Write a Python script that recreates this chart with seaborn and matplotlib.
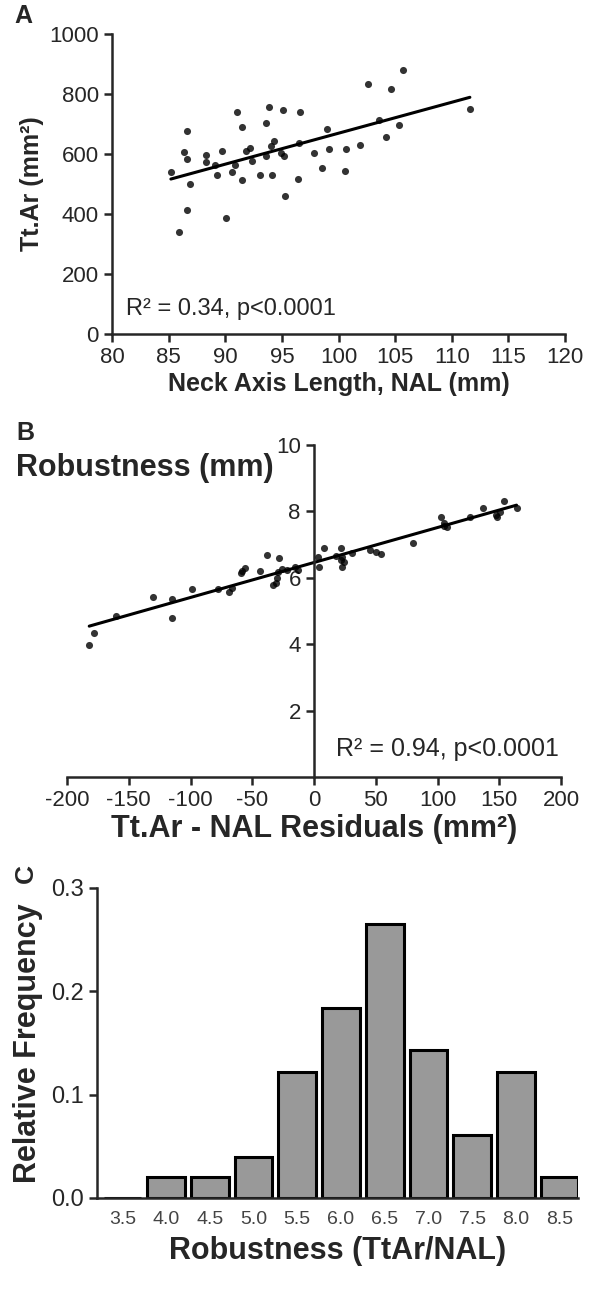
import matplotlib
matplotlib.use("Agg")
import matplotlib.pyplot as plt
import matplotlib.transforms as mtransforms
import seaborn as sns

# Panel A: neck axis length vs total area
nal = [85.2, 85.9, 86.6, 86.4, 86.6, 86.9, 86.6, 88.3, 88.3, 89.3, 89.1, 89.7, 90.1,
       90.6, 91.0, 90.9, 91.5, 91.5, 91.8, 92.2, 92.4, 93.1, 93.6, 93.9, 93.6, 94.0,
       94.3, 94.1, 95.1, 94.9, 95.2, 95.3, 96.4, 96.5, 96.6, 97.8, 98.5, 99.0, 99.2,
       100.6, 100.7, 101.9, 102.6, 103.6, 104.2, 104.6, 105.3, 105.7, 111.6]
ttar = [540, 340, 678, 607, 584, 500, 412, 598, 572, 529, 562, 609, 387,
        539, 739, 562, 689, 512, 609, 620, 578, 531, 704, 757, 592, 626,
        642, 530, 746, 603, 592, 459, 517, 637, 739, 603, 554, 683, 617,
        543, 618, 629, 833, 714, 657, 818, 696, 881, 750]

# Panel B: residuals vs robustness
resid = [-182, -178, -160, -130, -115, -115, -99, -78, -69, -66, -59, -56, -38, -44,
         -28, -33, -30, -29, -22, -15, -13, 3, 4, 8, 18, 22, 23, 23, 24, 31, 45, 50,
         54, 80, 103, 105, 108, 126, 137, 148, 151, 154, 164,
         -58, -31, -26, 22, 105, 147]
robust = [3.97, 4.34, 4.85, 5.43, 5.36, 4.80, 5.65, 5.65, 5.58, 5.68, 6.15, 6.31, 6.70, 6.21,
          6.61, 5.78, 5.98, 6.18, 6.23, 6.33, 6.23, 6.63, 6.33, 6.89, 6.65, 6.89, 6.63, 6.33,
          6.48, 6.76, 6.83, 6.78, 6.73, 7.04, 7.82, 7.56, 7.52, 7.82, 8.11, 7.82, 7.99, 8.32, 8.11,
          6.20, 5.85, 6.28, 6.55, 7.65, 7.90]

# Panel C: histogram of robustness
bins = ['3.5', '4.0', '4.5', '5.0', '5.5', '6.0', '6.5', '7.0', '7.5', '8.0', '8.5']
rel_freq = [0.0, 0.02, 0.02, 0.04, 0.122, 0.184, 0.265, 0.143, 0.061, 0.122, 0.02]

sns.set_style('ticks')
plt.rcParams['font.family'] = ['Liberation Sans', 'DejaVu Sans']
plt.rcParams['axes.unicode_minus'] = False
plt.rcParams['axes.linewidth'] = 1.8
plt.rcParams['xtick.major.width'] = 1.8
plt.rcParams['ytick.major.width'] = 1.8
plt.rcParams['xtick.major.size'] = 6
plt.rcParams['ytick.major.size'] = 6
plt.rcParams['xtick.labelsize'] = 16
plt.rcParams['ytick.labelsize'] = 16

W, H = 589, 1291
fig = plt.figure(figsize=(W / 100, H / 100), dpi=100)


def rect(l, r, t, b):
    return [l / W, 1 - b / H, (r - l) / W, (b - t) / H]


dots = dict(s=26, color='black', linewidths=0)
line = dict(color='black', lw=2.2)

# ---- A ----
axA = fig.add_axes(rect(112, 565, 34, 334))
sns.regplot(x=nal, y=ttar, ci=None, ax=axA, scatter_kws=dots, line_kws=line)
axA.set_xlim(80, 120)
axA.set_ylim(0, 1000)
axA.set_xticks(range(80, 121, 5))
axA.set_yticks(range(0, 1001, 200))
axA.set_xlabel('Neck Axis Length, NAL (mm)', fontsize=18, fontweight='bold', labelpad=3)
axA.set_ylabel('Tt.Ar (mm²)', fontsize=18, fontweight='bold', labelpad=4)
axA.text(81.2, 85, 'R² = 0.34, p<0.0001', fontsize=17, va='center')
sns.despine(ax=axA)
fig.text(14 / W, 1 - 16 / H, 'A', fontsize=18, fontweight='bold', va='center')

# ---- B ----
axB = fig.add_axes(rect(67, 561, 445, 777))
sns.regplot(x=resid, y=robust, ci=None, ax=axB, scatter_kws=dots, line_kws=line)
axB.set_xlim(-200, 200)
axB.set_ylim(0, 10)
axB.set_xticks(range(-200, 201, 50))
axB.set_yticks([2, 4, 6, 8, 10])
axB.spines['left'].set_position(('data', 0))
sns.despine(ax=axB)
axB.set_xlabel('Tt.Ar - NAL Residuals (mm²)', fontsize=22, fontweight='bold', labelpad=2)
axB.set_ylabel('')
axB.text(198, 0.85, 'R² = 0.94, p<0.0001', fontsize=18, ha='right', va='center')
fig.text(16 / W, 1 - 468 / H, 'Robustness (mm)', fontsize=22, fontweight='bold', va='center')
fig.text(16 / W, 1 - 433 / H, 'B', fontsize=18, fontweight='bold', va='center')

# ---- C ----
axC = fig.add_axes(rect(97, 578, 888, 1198))
sns.barplot(x=bins, y=rel_freq, color='#999999', saturation=1, edgecolor='black',
            linewidth=2.2, width=0.86, ax=axC)
axC.set_xlim(-0.58, 10.42)
axC.set_ylim(0, 0.3)
axC.set_yticks([0.0, 0.1, 0.2, 0.3])
axC.set_yticklabels(['0.0', '0.1', '0.2', '0.3'])
axC.tick_params(axis='y', labelsize=17)
axC.tick_params(axis='x', length=0, labelsize=14, labelcolor='#444444', pad=9)
sns.despine(ax=axC)
axC.set_xlabel('Robustness (TtAr/NAL)', fontsize=22, fontweight='bold', labelpad=6)
axC.set_ylabel('Relative Frequency', fontsize=22, fontweight='bold', labelpad=6)
trans = mtransforms.blended_transform_factory(fig.transFigure, axC.transData)
fig.text(26 / W, 0.305, 'C', fontsize=19, fontweight='bold', va='bottom',
         ha='center', rotation=90, transform=trans)

fig.savefig('out.png', dpi=100)
